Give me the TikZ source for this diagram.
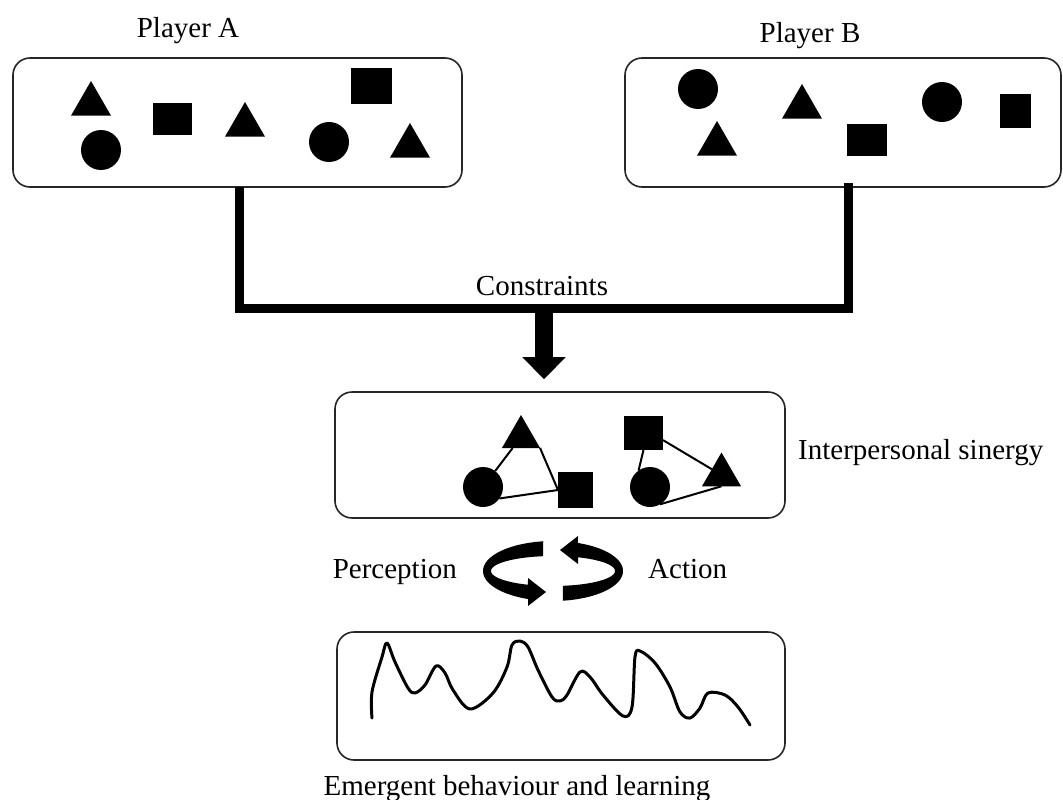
\documentclass[tikz,border=0pt]{standalone}
\usepackage{fontspec}
\setmainfont{Liberation Serif}
\usetikzlibrary{shapes.geometric,arrows.meta}
\begin{document}
\begin{tikzpicture}[x=1pt,y=-1pt,
  box/.style={draw=black!85, line width=1.6pt, rounded corners=17pt, rectangle, inner sep=0pt},
  circ/.style={circle, fill=black, minimum size=40pt, inner sep=0pt, outer sep=0pt},
  sq/.style={rectangle, fill=black, inner sep=0pt, outer sep=0pt},
  tri/.style={regular polygon, regular polygon sides=3, fill=black, inner sep=0pt, outer sep=0pt, minimum size=46pt},
  lbl/.style={font=\fontsize{29}{34}\selectfont, inner sep=0pt},
  conn/.style={line width=9pt, line join=miter},
  link/.style={line width=2pt},
  bigarrow/.style={line width=18pt, -{Triangle[width=42pt,length=22pt]}},
  wave/.style={line width=3pt, line cap=round, line join=round}
]
\useasboundingbox (0,0) rectangle (1063,800);
\fill[white] (0,0) rectangle (1063,800);

% boxes
\node[box, minimum width=449pt, minimum height=129pt] (boxA) at (237.5,122.5) {};
\node[box, minimum width=436pt, minimum height=129pt] (boxB) at (843,122.5) {};
\node[box, minimum width=450pt, minimum height=126pt] (boxM) at (560,455) {};
\node[box, minimum width=448pt, minimum height=128pt] (boxW) at (561,696) {};

% labels
\node[lbl, anchor=base] (pa) at (188,38) {Player A};
\node[lbl, anchor=base] (pb) at (810,43) {Player B};
\node[lbl, anchor=base] (cons) at (542,295) {Constraints};
\node[lbl, anchor=base west] (syn) at (798,459) {Interpersonal sinergy};
\node[lbl, anchor=base east] (perc) at (457,578) {Perception};
\node[lbl, anchor=base west] (act) at (648,578) {Action};
\node[lbl, anchor=base] (emer) at (517,795) {Emergent behaviour and learning};

% player A shapes
\node[tri] (a1) at (91,104) {};
\node[circ] (a2) at (101,150) {};
\node[sq, minimum width=39pt, minimum height=32pt] (a3) at (172.5,119) {};
\node[tri] (a4) at (245,125) {};
\node[circ] (a5) at (329,142) {};
\node[sq, minimum width=41pt, minimum height=36pt] (a6) at (371.5,86) {};
\node[tri] (a7) at (410,146) {};

% player B shapes
\node[circ] (b1) at (698,89) {};
\node[tri] (b2) at (717,144) {};
\node[tri] (b3) at (802,107) {};
\node[sq, minimum width=40pt, minimum height=32pt] (b4) at (867,140) {};
\node[circ] (b5) at (942,102) {};
\node[sq, minimum width=31pt, minimum height=34pt] (b6) at (1015.5,111) {};

% synergy shapes
\node[tri, minimum size=44pt] (t1) at (521,437) {};
\node[circ] (c1) at (483,487) {};
\node[sq, minimum width=35pt, minimum height=36pt] (s1) at (575.5,490) {};
\node[sq, minimum width=39pt, minimum height=34pt] (s2) at (643.5,433) {};
\node[circ] (c2) at (650,487) {};
\node[tri, minimum size=45pt] (t2) at (721.5,475) {};

\draw[link] (c1) -- (t1);
\draw[link] (t1.corner 3) -- (s1.west);
\draw[link] (c1.-35) -- (s1.west);
\draw[link] (s2.south) -- (c2.125);
\draw[link] (s2.-20) -- (t2);
\draw[link] (c2.-60) -- (t2.south);

% constraints connectors
\coordinate (cA) at (239,187);
\coordinate (cB) at (848,183);
\coordinate (cJ) at (544,308);
\draw[conn] (cA) |- (cJ) -| (cB);
\draw[bigarrow] (cJ) -- ([yshift=12pt]boxM.north -| cJ);

% perception-action cycle arrows
\fill plot[domain=262:110.9, samples=50] ({553+70*cos(\x)},{571+30*sin(\x)})
  -- (528,606) -- (546,592) -- (528,578)
  -- plot[domain=113.8:260.7, samples=50] ({553+62*cos(\x)},{571+15*sin(\x)}) -- cycle;
\begin{scope}[rotate around={180:(553,571)}]
\fill plot[domain=262:110.9, samples=50] ({553+70*cos(\x)},{571+30*sin(\x)})
  -- (528,606) -- (546,592) -- (528,578)
  -- plot[domain=113.8:260.7, samples=50] ({553+62*cos(\x)},{571+15*sin(\x)}) -- cycle;
\end{scope}

% emergent behaviour curve
\draw[wave] plot[smooth, tension=0.55] coordinates {
 (372,718) (372,692) (382,657) (387,643) (395,662) (408,688) (415,693)
 (425,685) (436,666) (445,673) (453,690) (470,709) (493,693) (507,667)
 (512,645) (520,641) (528,647) (538,670) (552,697) (560,701) (567,695)
 (580,672) (590,677) (603,695) (623,716) (632,707) (635,657) (640,651)
 (655,663) (670,687) (680,712) (690,718) (700,708) (708,693) (725,695)
 (738,707) (750,725)};
\end{tikzpicture}
\end{document}
